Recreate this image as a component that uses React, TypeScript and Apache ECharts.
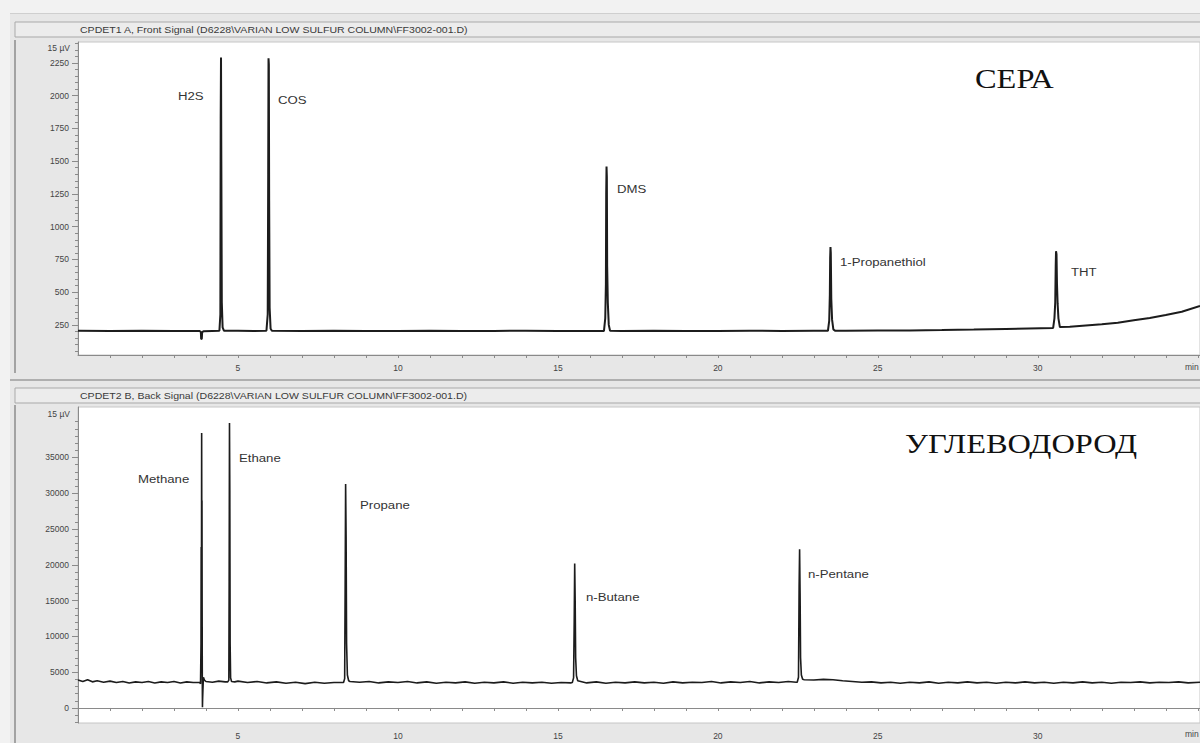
import React, { useEffect, useRef } from "react";
import * as echarts from "echarts";

// ---------- axis tick labels ----------
const timeLabelValues = [5, 10, 15, 20, 25, 30];
const timeTickValues = [1, 2, 3, 4, 5, 6, 7, 8, 9, 10, 11, 12, 13, 14, 15, 16, 17, 18, 19, 20, 21, 22, 23, 24, 25, 26, 27, 28, 29, 30, 31, 32, 33, 34, 35];
const sulfurLabelValues = [250, 500, 750, 1000, 1250, 1500, 1750, 2000, 2250];
const hydroLabelValues = [0, 5000, 10000, 15000, 20000, 25000, 30000, 35000];
const sulfurMinorTicks = Array.from({ length: 48 }, (_, i) => 50 + i * 50);
const hydroMinorTicks = Array.from({ length: 43 }, (_, i) => -2000 + i * 1000);

const TIME_MAX = 35.07;
const SULFUR_MIN = 20;
const SULFUR_MAX = 2410;
const HYDRO_MIN = -2100;
const HYDRO_MAX = 42050;

// ---------- front signal (sulfur) ----------
const sulfurBaseline: number[][] = [
  [0, 206], [1, 204], [2, 205], [3, 203], [3.7, 204],
  [4.2, 204], [5.0, 205], [5.5, 204],
  [7, 204], [8, 205], [9, 203], [10, 204], [11, 205], [12, 203], [13, 204], [14, 205], [15, 204], [16, 203],
  [17, 204], [18, 205], [19, 204], [20, 203], [21, 205], [22, 204], [23, 205],
  [24, 206], [25, 207], [26, 208], [27, 210], [28, 214], [29, 219], [30.1, 225],
  [31, 236], [31.5, 245], [32, 254], [32.5, 266], [33, 285], [33.5, 303], [34, 325], [34.5, 350], [35.07, 395],
];
const dipNotch = [[3.8, 203], [3.84, 196], [3.85, 140], [3.87, 145], [3.88, 195], [3.92, 201]];
const h2sPeak = [[4.42, 205], [4.45, 330], [4.46, 1830], [4.47, 2292], [4.48, 1500], [4.495, 420], [4.52, 230], [4.56, 206]];
const cosPeak = [[5.89, 205], [5.93, 330], [5.945, 1400], [5.955, 2285], [5.965, 2240], [5.975, 1200], [5.99, 380], [6.02, 220], [6.06, 205]];
const dmsPeak = [[16.44, 204], [16.48, 300], [16.5, 560], [16.51, 1250], [16.52, 1460], [16.53, 1380], [16.54, 700], [16.56, 420], [16.59, 250], [16.63, 205]];
const propanethiolPeak = [[23.44, 205], [23.48, 280], [23.5, 480], [23.51, 760], [23.52, 845], [23.53, 800], [23.545, 450], [23.57, 290], [23.61, 215], [23.66, 206]];
const thtPeak = [[30.48, 227], [30.52, 300], [30.545, 420], [30.56, 700], [30.57, 812], [30.585, 790], [30.6, 560], [30.62, 410], [30.645, 300], [30.69, 233]];

// ---------- back signal (hydrocarbons) ----------
const hydroBaseline: number[][] = [
  [0, 3900], [0.15, 3700], [0.3, 3950], [0.45, 3650], [0.6, 3800], [0.8, 3600], [1.0, 3750], [1.2, 3550], [1.4, 3700],
  [1.6, 3500], [1.8, 3650], [2.0, 3550], [2.2, 3700], [2.4, 3500], [2.6, 3650], [2.8, 3550], [3.0, 3700], [3.2, 3500],
  [3.4, 3650], [3.6, 3550],
  [4.0, 3700], [4.2, 3600], [4.4, 3750], [4.6, 3650],
  [4.9, 3650], [5.0, 3750], [5.3, 3550], [5.6, 3700], [5.9, 3500], [6.2, 3650], [6.5, 3450], [6.8, 3600], [7.1, 3400],
  [7.4, 3600], [7.7, 3450], [8.0, 3550],
  [8.8, 3600], [9.1, 3700], [9.4, 3500], [9.7, 3650], [10.0, 3550], [10.3, 3700], [10.6, 3500], [10.9, 3650], [11.2, 3450],
  [11.5, 3600], [11.8, 3500], [12.1, 3650], [12.4, 3450], [12.7, 3600], [13.0, 3500], [13.3, 3650], [13.6, 3450], [13.9, 3600],
  [14.2, 3500], [14.5, 3600], [14.8, 3450], [15.1, 3550], [15.4, 3500],
  [15.9, 3500], [16.2, 3650], [16.5, 3450], [16.8, 3600], [17.1, 3500], [17.4, 3650], [17.7, 3500], [18.0, 3600], [18.3, 3450],
  [18.6, 3650], [18.9, 3500], [19.2, 3600], [19.5, 3550], [19.8, 3700], [20.1, 3500], [20.4, 3650], [20.7, 3550], [21.0, 3700],
  [21.3, 3500], [21.6, 3650], [21.9, 3550], [22.2, 3700], [22.45, 3600],
  [22.7, 3950], [23.0, 3900], [23.3, 4000], [23.6, 3950], [23.9, 3800], [24.2, 3700], [24.5, 3600], [24.8, 3650], [25.1, 3500],
  [25.4, 3600], [25.7, 3450], [26.0, 3600], [26.3, 3500], [26.6, 3650], [26.9, 3450], [27.2, 3600], [27.5, 3500], [27.8, 3650],
  [28.1, 3500], [28.4, 3600], [28.7, 3450], [29.0, 3600], [29.3, 3500], [29.6, 3650], [29.9, 3500], [30.2, 3600], [30.5, 3450],
  [30.8, 3600], [31.1, 3500], [31.4, 3650], [31.7, 3500], [32.0, 3600], [32.3, 3450], [32.6, 3600], [32.9, 3550], [33.2, 3650],
  [33.5, 3500], [33.8, 3600], [34.1, 3550], [34.4, 3650], [34.7, 3500], [35.07, 3600],
];
const methanePeak = [[3.8, 3550], [3.83, 3400], [3.845, 9000], [3.85, 22500], [3.855, 12000], [3.86, 19700], [3.865, 38400], [3.87, 24000], [3.875, 29000], [3.88, 14000], [3.885, 4000], [3.89, 100], [3.895, 1200], [3.905, 2600], [3.92, 4300], [3.95, 3900]];
const ethanePeak = [[4.68, 3650], [4.715, 3900], [4.725, 17800], [4.735, 39800], [4.745, 30400], [4.755, 9000], [4.77, 4200], [4.8, 3700]];
const propanePeak = [[8.3, 3550], [8.335, 4100], [8.35, 16500], [8.365, 31300], [8.38, 24000], [8.395, 9000], [8.42, 4600], [8.46, 3800], [8.5, 3700]];
const butanePeak = [[15.45, 3550], [15.49, 4200], [15.51, 12000], [15.525, 20200], [15.54, 15000], [15.555, 7000], [15.58, 4500], [15.62, 3800]];
const pentanePeak = [[22.48, 3600], [22.52, 4300], [22.54, 17000], [22.555, 22170], [22.57, 16000], [22.585, 7000], [22.61, 4600], [22.65, 4000]];

const byTime = (a: number[], b: number[]) => a[0] - b[0];
const sulfurTrace = [...sulfurBaseline, ...dipNotch, ...h2sPeak, ...cosPeak, ...dmsPeak, ...propanethiolPeak, ...thtPeak].sort(byTime);
const hydroTrace = [...hydroBaseline, ...methanePeak, ...ethanePeak, ...propanePeak, ...butanePeak, ...pentanePeak].sort(byTime);

// ---------- texts ----------
const frontTitle = "CPDET1 A, Front Signal (D6228\\VARIAN LOW SULFUR COLUMN\\FF3002-001.D)";
const backTitle = "CPDET2 B, Back Signal (D6228\\VARIAN LOW SULFUR COLUMN\\FF3002-001.D)";
const sulfurPeakLabels = [
  { text: "H2S", x: 178, y: 96 },
  { text: "COS", x: 278, y: 100 },
  { text: "DMS", x: 617, y: 189 },
  { text: "1-Propanethiol", x: 840, y: 262 },
  { text: "THT", x: 1071, y: 272 },
];
const hydroPeakLabels = [
  { text: "Methane", x: 138, y: 479 },
  { text: "Ethane", x: 239, y: 458 },
  { text: "Propane", x: 360, y: 505 },
  { text: "n-Butane", x: 586, y: 597 },
  { text: "n-Pentane", x: 808, y: 574 },
];

const SANS = "'Liberation Sans', Arial, sans-serif";
const SERIF = "'Liberation Serif', 'DejaVu Serif', serif";
const AXIS_GRAY = "#8a8a8a";
const STRETCH = 1.2;

function xAxisFor(gridIndex: number) {
  return {
    type: "value",
    gridIndex,
    min: 0,
    max: TIME_MAX,
    axisLine: { show: true, lineStyle: { color: AXIS_GRAY, width: 1 } },
    axisTick: { show: true, customValues: timeTickValues, length: 3, lineStyle: { color: AXIS_GRAY } },
    axisLabel: { customValues: timeLabelValues, fontSize: 8.5, color: "#444", margin: 8, fontFamily: SANS },
    splitLine: { show: false },
  };
}

function yAxisFor(gridIndex: number, min: number, max: number, labels: number[], minor: number[], major: boolean) {
  return {
    type: "value",
    gridIndex,
    position: "left",
    min,
    max,
    axisLine: { show: !major, lineStyle: { color: AXIS_GRAY, width: 1 } },
    axisTick: {
      show: true,
      customValues: major ? labels : minor,
      length: major ? 6 : 3,
      lineStyle: { color: AXIS_GRAY },
    },
    axisLabel: major
      ? { show: false }
      : {
          customValues: labels,
          fontSize: 8.5,
          color: "#444",
          margin: 9,
          fontFamily: SANS,
          formatter: (v: number) => String(v),
        },
    splitLine: { show: false },
  };
}

export default function App() {
  const ref = useRef<HTMLDivElement>(null);

  useEffect(() => {
    if (!ref.current) return;
    const chart = echarts.init(ref.current, undefined, { renderer: "svg" });

    const labelText = (l: { text: string; x: number; y: number }) => ({
      type: "text",
      x: l.x,
      y: l.y,
      z: 100,
      scaleX: STRETCH,
      style: { text: l.text, fontSize: 11, fill: "#333", fontFamily: SANS, verticalAlign: "middle" },
    });

    const option = {
      animation: false,
      backgroundColor: "#e7e7e7",
      grid: [
        { left: 78, top: 42, right: 0, height: 313, show: true, backgroundColor: "#ffffff", borderColor: "#c6c6c6", borderWidth: 1 },
        { left: 78, top: 407, right: 0, height: 316, show: true, backgroundColor: "#ffffff", borderColor: "#c6c6c6", borderWidth: 1 },
      ],
      xAxis: [xAxisFor(0), xAxisFor(1)],
      yAxis: [
        yAxisFor(0, SULFUR_MIN, SULFUR_MAX, sulfurLabelValues, sulfurMinorTicks, false),
        yAxisFor(1, HYDRO_MIN, HYDRO_MAX, hydroLabelValues, hydroMinorTicks, false),
        yAxisFor(0, SULFUR_MIN, SULFUR_MAX, sulfurLabelValues, sulfurMinorTicks, true),
        yAxisFor(1, HYDRO_MIN, HYDRO_MAX, hydroLabelValues, hydroMinorTicks, true),
      ],
      series: [
        {
          type: "line",
          xAxisIndex: 0,
          yAxisIndex: 0,
          data: sulfurTrace,
          showSymbol: false,
          symbol: "none",
          lineStyle: { color: "#1c1c1c", width: 2 },
          z: 5,
        },
        {
          type: "line",
          xAxisIndex: 1,
          yAxisIndex: 1,
          data: hydroTrace,
          showSymbol: false,
          symbol: "none",
          lineStyle: { color: "#1c1c1c", width: 1.6 },
          z: 5,
        },
      ],
      graphic: [
        // light outer strips
        { type: "rect", shape: { x: 0, y: 0, width: 1200, height: 13 }, style: { fill: "#f2f2f2" } },
        { type: "rect", shape: { x: 0, y: 0, width: 10, height: 743 }, style: { fill: "#f2f2f2" } },
        // panel left borders
        { type: "line", shape: { x1: 15, y1: 40, x2: 15, y2: 373 }, style: { stroke: "#a3a3a3", lineWidth: 2 } },
        { type: "line", shape: { x1: 15, y1: 405, x2: 15, y2: 743 }, style: { stroke: "#a3a3a3", lineWidth: 2 } },
        // separator between panels
        { type: "line", shape: { x1: 10, y1: 380, x2: 1200, y2: 380 }, style: { stroke: "#9c9c9c", lineWidth: 1.5 } },
        { type: "line", shape: { x1: 10, y1: 13.5, x2: 1200, y2: 13.5 }, style: { stroke: "#cfcfcf", lineWidth: 1 } },
        // header boxes
        { type: "rect", shape: { x: 15, y: 22, width: 1190, height: 15 }, style: { fill: "#ececec", stroke: "#a9a9a9", lineWidth: 1 } },
        { type: "rect", shape: { x: 15, y: 388, width: 1190, height: 15 }, style: { fill: "#ececec", stroke: "#a9a9a9", lineWidth: 1 } },
        { type: "text", x: 80, y: 29.5, scaleX: STRETCH, style: { text: frontTitle, fontSize: 8.8, fill: "#3a3a3a", fontFamily: SANS, verticalAlign: "middle" } },
        { type: "text", x: 80, y: 395.5, scaleX: STRETCH, style: { text: backTitle, fontSize: 8.8, fill: "#3a3a3a", fontFamily: SANS, verticalAlign: "middle" } },
        // unit labels
        { type: "text", x: 70, y: 48, style: { text: "15 µV", fontSize: 8.5, fill: "#444", fontFamily: SANS, align: "right", verticalAlign: "middle" } },
        { type: "text", x: 70, y: 414, style: { text: "15 µV", fontSize: 8.5, fill: "#444", fontFamily: SANS, align: "right", verticalAlign: "middle" } },
        // axis unit at right
        { type: "text", x: 1185, y: 367, style: { text: "min", fontSize: 8.5, fill: "#444", fontFamily: SANS, verticalAlign: "middle" } },
        { type: "text", x: 1185, y: 734, style: { text: "min", fontSize: 8.5, fill: "#444", fontFamily: SANS, verticalAlign: "middle" } },
        // panel titles
        { type: "text", x: 975, y: 78, z: 100, scaleX: STRETCH, style: { text: "СЕРА", fontSize: 27, fill: "#111", fontFamily: SERIF, verticalAlign: "middle" } },
        { type: "text", x: 905, y: 443, z: 100, scaleX: STRETCH, style: { text: "УГЛЕВОДОРОД", fontSize: 27, fill: "#111", fontFamily: SERIF, verticalAlign: "middle" } },
        ...sulfurPeakLabels.map(labelText),
        ...hydroPeakLabels.map(labelText),
      ],
    };

    chart.setOption(option as any);
    return () => chart.dispose();
  }, []);

  return (
    <div
      ref={ref}
      style={{ position: "fixed", left: 0, top: 0, width: 1200, height: 743 }}
    />
  );
}
